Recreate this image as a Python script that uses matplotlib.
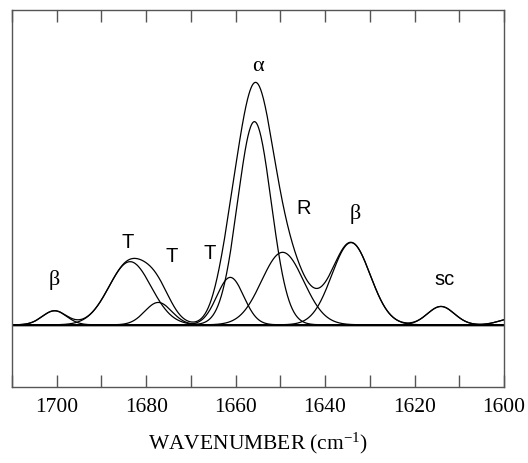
#####################################
# Import Modules
#####################################

import numpy as np
import matplotlib
matplotlib.use("Agg")
import matplotlib.pyplot as plt

plt.rcParams["mathtext.fontset"] = "custom"
plt.rcParams["mathtext.rm"] = "Liberation Serif"

#####################################
# Data - band components
#####################################

# component centres (cm-1), peak heights and widths (sigma)
centers = [1700.5, 1683.6, 1677.3, 1661.2, 1655.8, 1649.5, 1634.2, 1614.1, 1598.0]
heights = [0.42, 1.89, 0.67, 1.42, 6.08, 2.17, 2.46, 0.55, 0.19]
sigmas = [2.7, 4.7, 3.0, 3.0, 3.75, 4.7, 4.3, 3.0, 3.0]

# band labels and where they sit
band_labels = ["β", "T", "T", "T", "α", "R", "β", "sc"]
label_x = [1700.5, 1684.1, 1674.4, 1665.8, 1655.0, 1644.9, 1633.2, 1613.3]
label_y = [1.37, 2.50, 2.07, 2.15, 7.77, 3.50, 3.35, 1.39]

tick_values = list(range(1600, 1711, 10))
tick_labels = [str(v) if v % 20 == 0 else "" for v in tick_values]

#####################################
# Build curves
#####################################

wn = np.linspace(1600, 1710, 1200)
components = [h * np.exp(-(wn - c) ** 2 / (2 * s ** 2))
              for c, h, s in zip(centers, heights, sigmas)]
total = np.sum(components, axis=0)

#####################################
# Plot
#####################################

fig = plt.figure(figsize=(5.28, 4.64), dpi=100)
ax = fig.add_axes([12 / 528, 1 - 388 / 464, 492 / 528, 377 / 464])

ax.axhline(0, color="#9a9a9a", lw=2.0, zorder=1)
for comp in components:
    ax.plot(wn, comp, color="black", lw=0.9)
ax.plot(wn, total, color="black", lw=0.9)

for lab, x, y in zip(band_labels, label_x, label_y):
    if lab in ("α", "β"):
        ax.text(x, y, lab, ha="center", va="center", fontsize=16,
                family=["Liberation Serif"])
    else:
        ax.text(x, y, lab, ha="center", va="center", fontsize=14.5,
                family=["Liberation Sans"])

ax.set_xlim(1710, 1600)
ax.set_ylim(-1.86, 9.42)
ax.set_xticks(tick_values)
ax.set_xticklabels(tick_labels, family="Liberation Serif", fontsize=15.5)
ax.set_yticks([])
ax.tick_params(axis="x", direction="in", length=8.5, width=1, color="#555555",
               top=True, bottom=True, pad=7)
for sp in ax.spines.values():
    sp.set_color("#555555")
    sp.set_linewidth(1)

ax.set_xlabel(r"WAVENUMBER (cm$\mathregular{^{-1}}$)", family="Liberation Serif",
              fontsize=15.5, labelpad=10)

fig.savefig("out.png", dpi=100)
